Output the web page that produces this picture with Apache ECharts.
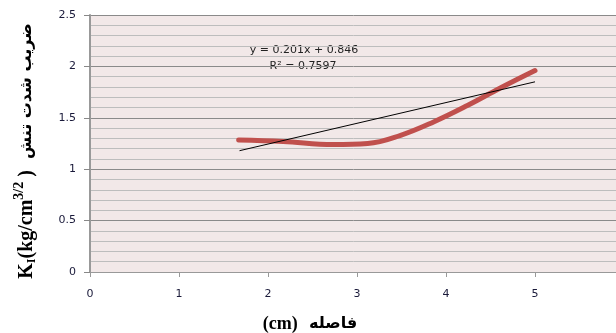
<!DOCTYPE html>
<html>
<head>
<meta charset="utf-8">
<script src="https://cdn.jsdelivr.net/npm/echarts@6/dist/echarts.min.js"></script>
<style>
  html, body { margin: 0; padding: 0; background: #fff; }
  #chart { width: 616px; height: 333px; }
</style>
</head>
<body>
<div id="chart"></div>
<script>
// curve
var curveX = [1.67, 2.17, 2.73, 3.12, 3.49, 3.86, 4.24, 4.61, 5.0];
var curveY = [1.285, 1.27, 1.24, 1.25, 1.33, 1.46, 1.62, 1.79, 1.96];
// trend line end points
var trendX = [1.68, 5.0];
var trendY = [1.18, 1.85];
var xTicks = [0, 1, 2, 3, 4, 5, 6];
var yTicks = [0, 0.5, 1, 1.5, 2, 2.5];
var eqText = 'y = 0.201x + 0.846';
var r2Text = 'R² = 0.7597';

function pairs(xs, ys) {
    var out = [];
    for (var i = 0; i < xs.length; i++) {
        out.push([xs[i], ys[i]]);
    }
    return out;
}

var chart = echarts.init(document.getElementById('chart'));

var option = {
    animation: false,
    grid: {
        left: 90,
        right: -8,
        top: 15,
        bottom: 61,
        outerBoundsMode: 'none',
        containLabel: false,
        show: true,
        backgroundColor: '#F2E8E8',
        borderWidth: 0
    },
    xAxis: {
        type: 'value',
        min: xTicks[0],
        max: xTicks[xTicks.length - 1],
        interval: 1,
        axisLine: { show: true, onZero: false, lineStyle: { color: '#999', width: 1 } },
        axisTick: { show: true, length: 5, lineStyle: { color: '#999' } },
        axisLabel: {
            margin: 17,
            color: '#1a1a3a',
            fontSize: 11,
            fontFamily: 'DejaVu Sans',
            formatter: function (v) { return v === 6 ? '' : v; }
        },
        splitLine: { show: false }
    },
    yAxis: {
        type: 'value',
        min: yTicks[0],
        max: yTicks[yTicks.length - 1],
        interval: 0.5,
        axisLine: { show: true, lineStyle: { color: '#999', width: 2 } },
        axisTick: { show: true, length: 6, lineStyle: { color: '#888' } },
        axisLabel: {
            margin: 14,
            color: '#1a1a3a',
            fontSize: 11,
            fontFamily: 'DejaVu Sans'
        },
        splitLine: { show: true, lineStyle: { color: '#8a8a8a', width: 1 } },
        minorTick: { show: false, splitNumber: 5 },
        minorSplitLine: { show: true, lineStyle: { color: '#bdbdbd', width: 1 } }
    },
    series: [{
        type: 'line',
        data: pairs(curveX, curveY),
        smooth: 0.4,
        symbol: 'none',
        lineStyle: { color: '#C0504D', width: 5, cap: 'round' },
        z: 3
    }, {
        type: 'line',
        data: pairs(trendX, trendY),
        symbol: 'none',
        lineStyle: { color: '#000', width: 1 },
        z: 4
    }],
    graphic: [{
        type: 'text',
        x: 304,
        y: 50,
        style: {
            text: eqText,
            align: 'center',
            verticalAlign: 'middle',
            font: '11px "DejaVu Sans"',
            fill: '#222'
        }
    }, {
        type: 'text',
        x: 303,
        y: 66,
        style: {
            text: r2Text,
            align: 'center',
            verticalAlign: 'middle',
            font: '11px "DejaVu Sans"',
            fill: '#222'
        }
    }, {
        type: 'text',
        x: 27,
        y: 151,
        rotation: Math.PI / 2,
        style: {
            text: '{k|K}{s|I}{k|(kg/cm}{p|3/2}{k| )}{a|  ضریب شدت تنش}',
            align: 'center',
            verticalAlign: 'middle',
            fill: '#000',
            rich: {
                k: { fontFamily: 'Liberation Serif', fontWeight: 'bold', fontSize: 20, lineHeight: 30, verticalAlign: 'middle' },
                s: { fontFamily: 'Liberation Serif', fontWeight: 'bold', fontSize: 12, lineHeight: 30, verticalAlign: 'bottom', padding: [0, 0, 4, 0] },
                p: { fontFamily: 'Liberation Serif', fontWeight: 'bold', fontSize: 14, lineHeight: 30, verticalAlign: 'top', padding: [0, 0, 0, 0] },
                a: { fontFamily: 'DejaVu Sans', fontWeight: 'bold', fontSize: 16, lineHeight: 30, verticalAlign: 'middle' }
            }
        }
    }, {
        type: 'text',
        x: 310,
        y: 324,
        style: {
            text: '{k|(cm)}{a|  فاصله}',
            align: 'center',
            verticalAlign: 'middle',
            fill: '#000',
            rich: {
                k: { fontFamily: 'Liberation Serif', fontWeight: 'bold', fontSize: 18 },
                a: { fontFamily: 'DejaVu Sans', fontWeight: 'bold', fontSize: 16 }
            }
        }
    }]
};

chart.setOption(option);
</script>
</body>
</html>
